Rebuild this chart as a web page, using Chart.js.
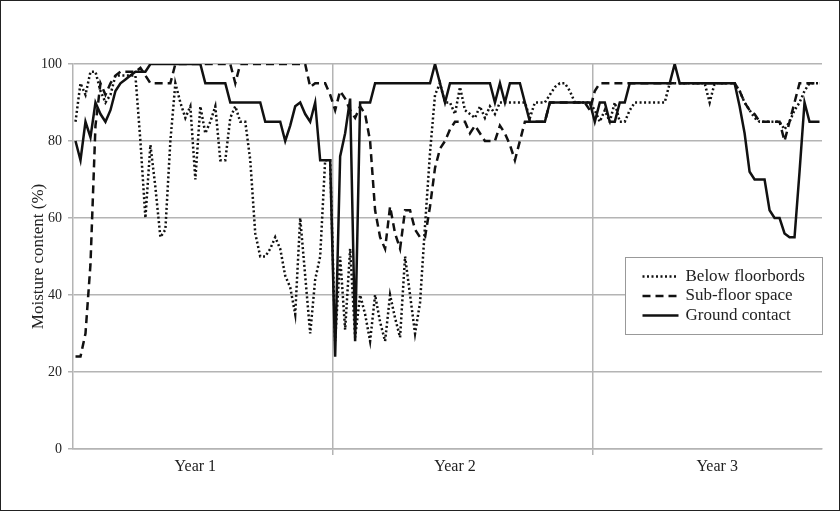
<!DOCTYPE html>
<html lang="en">
<head>
  <meta charset="UTF-8">
  <title>Moisture content</title>
  <script src="https://cdn.jsdelivr.net/npm/chart.js"></script>
  <style>
    body { margin: 0; background: #fff; }
    #wrap { width: 840px; height: 511px; }
  </style>
</head>
<body>
  <div id="wrap"><canvas id="chart" width="840" height="511"></canvas></div>
  <script>
    // weekly readings, three years (last year shorter)
    const yearLabels = ['Year 1', 'Year 2', 'Year 3'];
    const yearLabelPos = [24, 76, 128.5];
    const yearBounds = [51.5, 103.5];
    const yTicks = [0, 20, 40, 60, 80, 100];
    const weeks = Array.from({ length: 150 }, (_, i) => i);

    const belowFloor = [
      85, 95, 92, 98, 98, 93, 90, 92, 97, 97,
      97, 97, 97, 80, 60, 79, 68, 55, 57, 80,
      95, 90, 86, 89, 70, 89, 82, 85, 89, 75,
      75, 86, 89, 85, 85, 75, 56, 50, 50, 52,
      55, 52, 45, 42, 35, 60, 45, 30, 44, 50,
      75, 75,
      28, 50, 31, 52, 29, 40, 35, 28, 40, 33,
      28, 40, 34, 29, 50, 40, 30, 38, 58, 77,
      92, 95, 90, 90, 87, 94, 88, 87, 86, 89,
      86, 89, 87, 90, 90, 90, 90, 90, 90, 86,
      90, 90, 90, 92, 94, 95, 95, 93, 90, 90,
      90, 90,
      88, 85, 88, 85, 90, 85, 85, 88, 90, 90,
      90, 90, 90, 90, 90, 95, 95, 95, 95, 95,
      95, 95, 95, 90, 95, 95, 95, 95, 95, 93,
      90, 88, 86, 85, 85, 85, 85, 85, 83, 85,
      88, 90, 93, 95, 95, 95
    ];

    const subFloor = [
      24, 24, 30, 48, 84, 95, 92, 95, 97, 98,
      98, 98, 98, 99, 97, 95, 95, 95, 95, 95,
      100, 100, 100, 100, 100, 100, 100, 100, 100, 100,
      100, 100, 95, 100, 100, 100, 100, 100, 100, 100,
      100, 100, 100, 100, 100, 100, 100, 94, 95, 95,
      95, 92,
      88, 93, 91, 88, 86, 89, 87, 80, 62, 55,
      52, 63, 56, 52, 62, 62, 57, 55, 55, 63,
      73, 78, 80, 83, 85, 85, 85, 82, 84, 82,
      80, 80, 80, 84, 82, 79, 75, 80, 85, 85,
      85, 85, 85, 90, 90, 90, 90, 90, 90, 90,
      90, 88,
      93, 95, 95, 95, 95, 95, 95, 95, 95, 95,
      95, 95, 95, 95, 95, 95, 95, 95, 95, 95,
      95, 95, 95, 95, 95, 95, 95, 95, 95, 93,
      90, 88, 87, 85, 85, 85, 85, 85, 80, 85,
      90, 95, 95, 95, 95, 95
    ];

    const groundContact = [
      80, 75, 85, 81, 90, 87, 85, 88, 93, 95,
      96, 97, 98, 98, 98, 100, 100, 100, 100, 100,
      100, 100, 100, 100, 100, 100, 95, 95, 95, 95,
      95, 90, 90, 90, 90, 90, 90, 90, 85, 85,
      85, 85, 80, 84, 89, 90, 87, 85, 90, 75,
      75, 75,
      24, 76, 82, 91, 28, 90, 90, 90, 95, 95,
      95, 95, 95, 95, 95, 95, 95, 95, 95, 95,
      100, 95, 90, 95, 95, 95, 95, 95, 95, 95,
      95, 95, 90, 95, 90, 95, 95, 95, 90, 85,
      85, 85, 85, 90, 90, 90, 90, 90, 90, 90,
      90, 90,
      85, 90, 90, 85, 85, 90, 90, 95, 95, 95,
      95, 95, 95, 95, 95, 95, 100, 95, 95, 95,
      95, 95, 95, 95, 95, 95, 95, 95, 95, 89,
      82, 72, 70, 70, 70, 62, 60, 60, 56, 55,
      55, 72, 90, 85, 85, 85
    ];

    const ink = '#111';
    const gridGray = '#b4b4b4';
    Chart.defaults.font.family = "'Liberation Serif', 'Times New Roman', serif";
    Chart.defaults.color = '#222';

    const frame = {
      id: 'frame',
      beforeDraw(chart) {
        const c = chart.ctx;
        c.save();
        c.fillStyle = '#fff';
        c.fillRect(0, 0, chart.width, chart.height);
        c.restore();
      },
      afterDraw(chart) {
        const c = chart.ctx;
        c.save();
        c.strokeStyle = '#222';
        c.lineWidth = 1;
        c.strokeRect(0.5, 0.5, chart.width - 1, chart.height - 1);
        c.restore();
      }
    };

    // boxed legend sitting inside the plot, lower right
    const boxLegend = {
      id: 'boxLegend',
      afterDatasetsDraw(chart) {
        const c = chart.ctx;
        const area = chart.chartArea;
        const w = 197, h = 77;
        const x = Math.round(area.right - w) + 0.5;
        const y = Math.round(chart.scales.y.getPixelForValue(50)) + 0.5;
        c.save();
        c.fillStyle = '#fff';
        c.fillRect(x, y, w, h);
        c.strokeStyle = '#999';
        c.lineWidth = 1;
        c.strokeRect(x, y, w, h);
        chart.data.datasets.forEach((ds, k) => {
          const ly = y + 19 + k * 19.5;
          c.beginPath();
          c.setLineDash(ds.borderDash || []);
          c.lineWidth = ds.borderWidth;
          c.strokeStyle = ds.borderColor;
          c.moveTo(x + 17, ly);
          c.lineTo(x + 53, ly);
          c.stroke();
          c.setLineDash([]);
          c.fillStyle = '#222';
          c.font = "17px 'Liberation Serif', serif";
          c.textBaseline = 'middle';
          c.fillText(ds.label, x + 60, ly);
        });
        c.restore();
      }
    };

    new Chart(document.getElementById('chart'), {
      type: 'line',
      data: {
        labels: weeks,
        datasets: [{
          label: 'Below floorbords',
          data: belowFloor,
          borderColor: ink,
          borderWidth: 2.5,
          borderDash: [2, 2.5],
          order: 2
        }, {
          label: 'Sub-floor space',
          data: subFloor,
          borderColor: ink,
          borderWidth: 2.5,
          borderDash: [8, 5],
          order: 1
        }, {
          label: 'Ground contact',
          data: groundContact,
          borderColor: ink,
          borderWidth: 2.5,
          order: 0
        }]
      },
      options: {
        responsive: false,
        animation: false,
        events: [],
        layout: { padding: { top: 64, right: 18, left: 0, bottom: 0 } },
        elements: { point: { radius: 0 }, line: { tension: 0, fill: false } },
        plugins: { legend: { display: false }, tooltip: { enabled: false } },
        scales: {
          x: {
            type: 'linear',
            min: -0.5,
            max: 149.5,
            afterBuildTicks: s => {
              s.ticks = [-0.5, yearLabelPos[0], yearBounds[0], yearLabelPos[1], yearBounds[1], yearLabelPos[2], 149.5]
                .map(v => ({ value: v }));
            },
            afterFit: s => { s.height = 62; },
            ticks: {
              autoSkip: false,
              maxRotation: 0,
              padding: 2,
              font: { size: 16 },
              color: '#222',
              callback: v => {
                const k = yearLabelPos.indexOf(v);
                return k >= 0 ? yearLabels[k] : '';
              }
            },
            grid: {
              color: c => (c.tick && yearBounds.includes(c.tick.value)) ? gridGray : 'rgba(0,0,0,0)',
              lineWidth: 1.5,
              tickLength: 6
            },
            border: { color: gridGray, width: 1.5 }
          },
          y: {
            min: 0,
            max: 100,
            afterBuildTicks: s => { s.ticks = yTicks.map(v => ({ value: v })); },
            afterFit: s => { s.width = 73; },
            ticks: { padding: 6, font: { size: 14 }, color: '#222' },
            grid: { color: gridGray, lineWidth: 1.5, tickLength: 5 },
            border: { color: gridGray, width: 1.5 },
            title: {
              display: true,
              text: 'Moisture content (%)',
              font: { size: 17 },
              color: '#222',
              padding: { top: 28, bottom: 0 }
            }
          }
        }
      },
      plugins: [frame, boxLegend]
    });
  </script>
</body>
</html>
